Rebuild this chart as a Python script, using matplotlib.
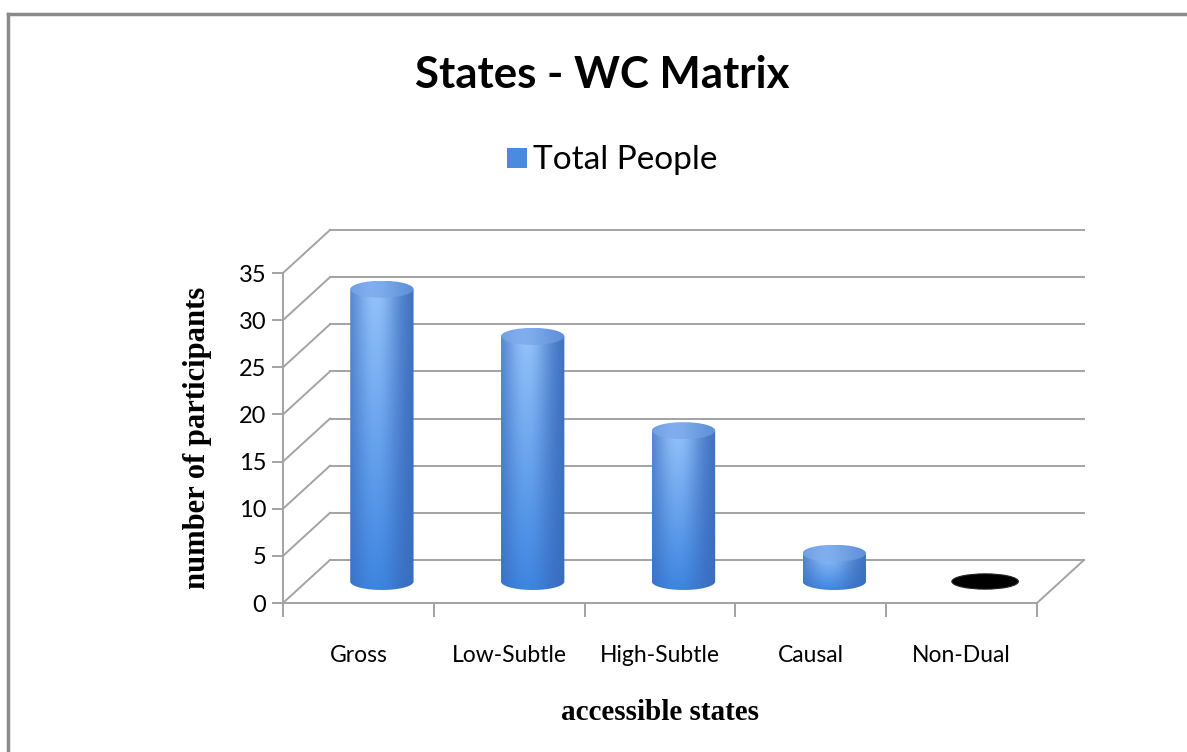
import numpy as np
import matplotlib
matplotlib.use("Agg")
import matplotlib.pyplot as plt
from matplotlib.patches import Polygon, Ellipse, Rectangle
from matplotlib.lines import Line2D

categories = ["Gross", "Low-Subtle", "High-Subtle", "Causal", "Non-Dual"]
total_people = [31, 26, 16, 3, 0]
y_ticks = [0, 5, 10, 15, 20, 25, 30, 35]

W, H = 1187, 752
fig = plt.figure(figsize=(W / 100, H / 100), dpi=100)
fig.patch.set_facecolor("white")

# front plane of the plot area, in pixels
left, right, bottom, top = 283, 1037, 603, 273
ax = fig.add_axes([left / W, 1 - bottom / H, (right - left) / W, (bottom - top) / H])
ax.set_xlim(0, len(categories))
ax.set_ylim(0, 35)
ax.patch.set_alpha(0)

# depth offset of the back wall, in data units
dx = 47 / ((right - left) / len(categories))
dy = 43 / ((bottom - top) / 35)

grid_c = "#a3a3a3"
n = len(categories)
for v in y_ticks:
    # back wall line
    ax.plot([dx, n + dx], [v + dy, v + dy], color=grid_c, lw=1.4, clip_on=False, zorder=1)
    # side wall line
    ax.plot([0, dx], [v, v + dy], color=grid_c, lw=1.4, clip_on=False, zorder=1)
# right edge of floor
ax.plot([n, n + dx], [0, dy], color=grid_c, lw=1.4, clip_on=False, zorder=1)

# cylinders
bw = 0.42
eh = 1.8
dark_edge = np.array([0.22, 0.42, 0.74])
top_mid = np.array([0.58, 0.76, 0.98])
bot_mid = np.array([0.24, 0.52, 0.88])

nx, ny = 120, 200
tt = np.linspace(0, 1, nx)
hl = np.exp(-((tt - 0.40) / 0.38) ** 2)
ss = np.linspace(0, 1, ny)[:, None, None]
mid = bot_mid + (top_mid - bot_mid) * ss
body_img = dark_edge + (mid - dark_edge) * hl[None, :, None]
body_img = np.clip(body_img, 0, 1)

cap_img = np.zeros((40, nx, 3))
cap_dark = np.array([0.36, 0.55, 0.84])
cap_light = np.array([0.50, 0.68, 0.93])
ch = np.exp(-((tt - 0.35) / 0.45) ** 2)
cap_img[:] = cap_dark + (cap_light - cap_dark) * ch[:, None]

for i, v in enumerate(total_people):
    cx = i + 0.5 + dx / 2
    base = dy / 2
    x0, x1 = cx - bw / 2, cx + bw / 2
    if v > 0:
        th = np.linspace(np.pi, 2 * np.pi, 60)
        lower = np.column_stack([cx + bw / 2 * np.cos(th), base + eh / 2 * np.sin(th)])
        poly = np.vstack([lower, [[x1, base + v], [x0, base + v]]])
        clip = Polygon(poly, closed=True, transform=ax.transData, facecolor="none", edgecolor="none")
        ax.add_patch(clip)
        im = ax.imshow(body_img, extent=[x0, x1, base - eh / 2, base + v], origin="lower",
                       aspect="auto", zorder=3, interpolation="bilinear")
        im.set_clip_path(clip)
        cap = Ellipse((cx, base + v), bw, eh, transform=ax.transData, facecolor="none", edgecolor="none")
        ax.add_patch(cap)
        im2 = ax.imshow(cap_img, extent=[x0, x1, base + v - eh / 2, base + v + eh / 2], origin="lower",
                        aspect="auto", zorder=4, interpolation="bilinear")
        im2.set_clip_path(cap)
    else:
        ax.add_patch(Ellipse((cx, base + v), bw * 1.05, eh * 0.9, facecolor="black", edgecolor="#222222",
                             lw=0.8, zorder=4))

ax.set_xlim(0, n)
ax.set_ylim(0, 35)

# axes: front left spine and floor front edge
for s in ["top", "right"]:
    ax.spines[s].set_visible(False)
for s in ["left", "bottom"]:
    ax.spines[s].set_color(grid_c)
    ax.spines[s].set_linewidth(1.4)
    ax.spines[s].set_zorder(2)

ax.set_yticks(y_ticks)
ax.set_yticklabels([str(t) for t in y_ticks], fontsize=17, family="Lato")
ax.tick_params(axis="y", length=8, width=1.4, color=grid_c, pad=4)
ax.set_xticks(np.arange(n + 1))
ax.set_xticklabels([])
ax.set_xticks(np.arange(n) + 0.5, minor=True)
ax.set_xticklabels(categories, minor=True, fontsize=16.5, family="Lato")
ax.tick_params(axis="x", which="major", length=10, width=1.4, color=grid_c, direction="out")
ax.tick_params(axis="x", which="minor", length=0, pad=30)

ax.set_ylabel("number of participants", family="Liberation Serif", fontweight="bold",
              fontsize=22, va="center")
ax.yaxis.set_label_coords((197 - left) / (right - left), 0.5)
ax.set_xlabel("accessible states", family="Liberation Serif", fontweight="bold",
              fontsize=21, va="center")
ax.xaxis.set_label_coords(0.5, (bottom - 712) / (bottom - top))

fig.text(602 / W, 1 - 75 / H, "States - WC Matrix", ha="center", va="center",
         family="Lato", fontweight="bold", fontsize=31.5)

# legend
sw = fig.add_artist(Rectangle((507 / W, 1 - 168 / H), 20 / W, 20 / H, transform=fig.transFigure,
                              facecolor="#4a8ae0", edgecolor="none"))
fig.text(533 / W, 1 - 160 / H, "Total People", ha="left", va="center", family="Lato", fontsize=24)

# outer frame
fig.add_artist(Line2D([7.5 / W, 7.5 / W], [0, 1 - 14 / H], transform=fig.transFigure,
                      color="#8a8a8a", lw=2.5))
fig.add_artist(Line2D([7.5 / W, 1], [1 - 14 / H, 1 - 14 / H], transform=fig.transFigure,
                      color="#8a8a8a", lw=2.5))

fig.savefig("out.png", dpi=100)
